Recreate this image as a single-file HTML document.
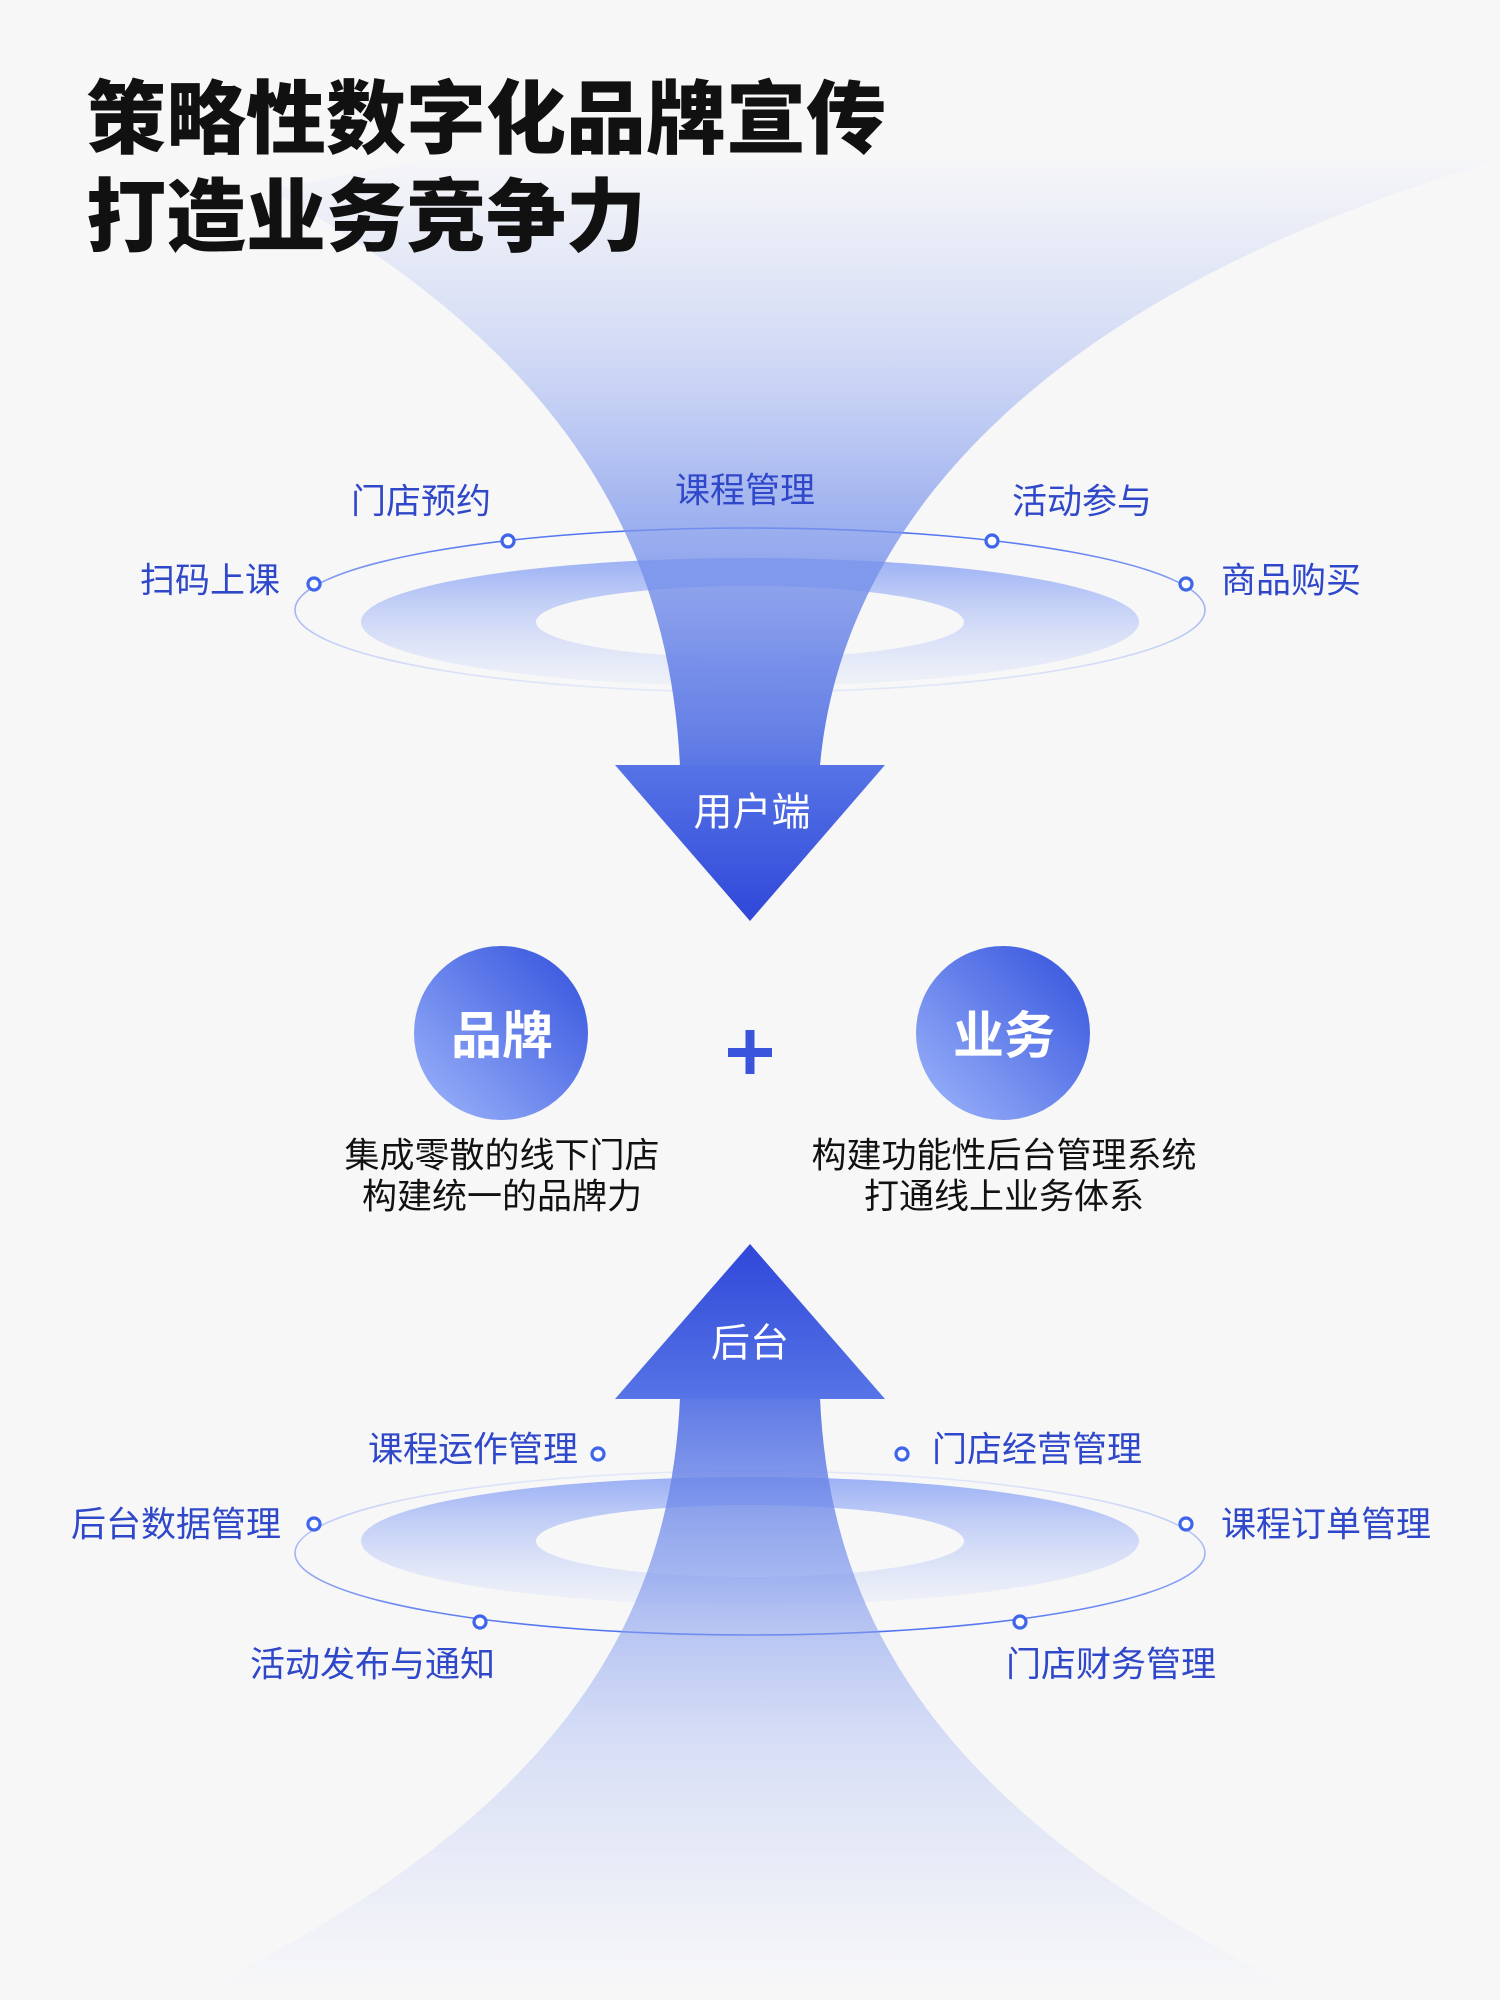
<!DOCTYPE html>
<html><head><meta charset="utf-8">
<style>
html,body{margin:0;padding:0;background:#f7f7f8;}
body{width:1500px;height:2000px;position:relative;overflow:hidden;font-family:"Liberation Sans","Noto Sans CJK SC",sans-serif;}
svg{position:absolute;left:0;top:0;}
.t{position:absolute;font-weight:900;font-size:80px;color:#111;line-height:1;letter-spacing:0px;}
</style></head><body>
<svg width="1500" height="2000" viewBox="0 0 1500 2000">
<defs>
<linearGradient id="ft" x1="0" y1="150" x2="0" y2="770" gradientUnits="userSpaceOnUse">
<stop offset="0" stop-color="#aebdf2" stop-opacity="0"/>
<stop offset="0.3" stop-color="#a3b6f2" stop-opacity="0.4"/>
<stop offset="0.6" stop-color="#7f98ec" stop-opacity="0.75"/>
<stop offset="1" stop-color="#5a76e4"/>
</linearGradient>
<linearGradient id="fb" x1="0" y1="1390" x2="0" y2="1990" gradientUnits="userSpaceOnUse">
<stop offset="0" stop-color="#5a76e4"/>
<stop offset="0.3" stop-color="#7f98ec" stop-opacity="0.7"/>
<stop offset="0.6" stop-color="#9fb3f2" stop-opacity="0.35"/>
<stop offset="1" stop-color="#aebdf2" stop-opacity="0"/>
</linearGradient>
<linearGradient id="ah" x1="0" y1="765" x2="0" y2="921" gradientUnits="userSpaceOnUse">
<stop offset="0" stop-color="#5674e6"/><stop offset="1" stop-color="#3047d9"/>
</linearGradient>
<linearGradient id="ah2" x1="0" y1="1399" x2="0" y2="1244" gradientUnits="userSpaceOnUse">
<stop offset="0" stop-color="#5674e6"/><stop offset="1" stop-color="#3047d9"/>
</linearGradient>
<linearGradient id="rg" x1="0" y1="0" x2="0" y2="1">
<stop offset="0" stop-color="#8aa3f4" stop-opacity="0.85"/>
<stop offset="1" stop-color="#c5d2f7" stop-opacity="0.15"/>
</linearGradient>
<linearGradient id="rl" x1="0" y1="0" x2="0" y2="1">
<stop offset="0" stop-color="#4a6ef0"/>
<stop offset="0.5" stop-color="#7f9af2" stop-opacity="0.7"/>
<stop offset="1" stop-color="#c7d3f7" stop-opacity="0.4"/>
</linearGradient>
<linearGradient id="rl2" x1="0" y1="1" x2="0" y2="0">
<stop offset="0" stop-color="#4a6ef0"/>
<stop offset="0.5" stop-color="#7f9af2" stop-opacity="0.7"/>
<stop offset="1" stop-color="#c7d3f7" stop-opacity="0.4"/>
</linearGradient>
<linearGradient id="cg" x1="1" y1="0" x2="0" y2="1">
<stop offset="0" stop-color="#3150dc"/><stop offset="1" stop-color="#9fb6fb"/>
</linearGradient>
</defs>

<path fill-rule="evenodd" fill="url(#rg)" d="M361,622 a389,64 0 1,0 778,0 a389,64 0 1,0 -778,0 Z M536,622 a214,36 0 1,0 428,0 a214,36 0 1,0 -428,0 Z"/>
<ellipse cx="750" cy="610" rx="455" ry="82" fill="none" stroke="url(#rl)" stroke-width="1.6"/>
<path fill="url(#ft)" d="M680,766 C670,560 580,360 270,190 L420,160 L1500,160 C1020,300 840,540 820,766 Z"/>
<polygon points="615,765 885,765 750,921" fill="url(#ah)"/>

<path fill-rule="evenodd" fill="url(#rg)" d="M361,1541 a389,64 0 1,0 778,0 a389,64 0 1,0 -778,0 Z M536,1541 a214,36 0 1,0 428,0 a214,36 0 1,0 -428,0 Z"/>
<ellipse cx="750" cy="1553" rx="455" ry="82" fill="none" stroke="url(#rl2)" stroke-width="1.6"/>
<path fill="url(#fb)" d="M680,1398 C670,1620 560,1820 180,2000 L1320,2000 C940,1820 830,1620 820,1398 Z"/>
<polygon points="615,1399 885,1399 750,1244" fill="url(#ah2)"/>

<g fill="#fff" stroke="#3f66ea" stroke-width="3.2">
<circle cx="314" cy="584" r="6"/><circle cx="508" cy="541" r="6"/><circle cx="992" cy="541" r="6"/><circle cx="1186" cy="584" r="6"/>
<circle cx="598" cy="1454" r="6"/><circle cx="314" cy="1524" r="6"/><circle cx="480" cy="1622" r="6"/>
<circle cx="902" cy="1454" r="6"/><circle cx="1186" cy="1524" r="6"/><circle cx="1020" cy="1622" r="6"/>
</g>

<circle cx="501" cy="1033" r="87" fill="url(#cg)"/>
<circle cx="1003" cy="1033" r="87" fill="url(#cg)"/>
<rect x="728" y="1048" width="44" height="9" fill="#3a55db"/>
<rect x="745.5" y="1030" width="9" height="44" fill="#3a55db"/>

<g font-family="Liberation Sans, Noto Sans CJK SC, sans-serif">
<g font-size="35" fill="#2f47c9" dominant-baseline="central">
<text x="140" y="581">扫码上课</text>
<text x="351" y="502">门店预约</text>
<text x="675" y="491">课程管理</text>
<text x="1012" y="502">活动参与</text>
<text x="1221" y="581">商品购买</text>
<text x="578" y="1450" text-anchor="end">课程运作管理</text>
<text x="281" y="1525" text-anchor="end">后台数据管理</text>
<text x="250" y="1665">活动发布与通知</text>
<text x="932" y="1450">门店经营管理</text>
<text x="1221" y="1525">课程订单管理</text>
<text x="1006" y="1665">门店财务管理</text>
</g>
<g font-size="39" fill="#fff" text-anchor="middle" dominant-baseline="central">
<text x="752" y="813">用户端</text>
<text x="750" y="1344">后台</text>
</g>
<g font-size="51" font-weight="bold" fill="#fff" text-anchor="middle" dominant-baseline="central">
<text x="502" y="1036">品牌</text>
<text x="1004" y="1036">业务</text>
</g>
<g font-size="35" fill="#111" text-anchor="middle" dominant-baseline="central">
<text x="502" y="1156">集成零散的线下门店</text>
<text x="502" y="1197">构建统一的品牌力</text>
<text x="1004" y="1156">构建功能性后台管理系统</text>
<text x="1004" y="1197">打通线上业务体系</text>
</g>
</g>
</svg>
<div class="t" style="left:86px;top:80px;">策略性数字化品牌宣传</div>
<div class="t" style="left:86px;top:178px;">打造业务竞争力</div>
</body></html>
